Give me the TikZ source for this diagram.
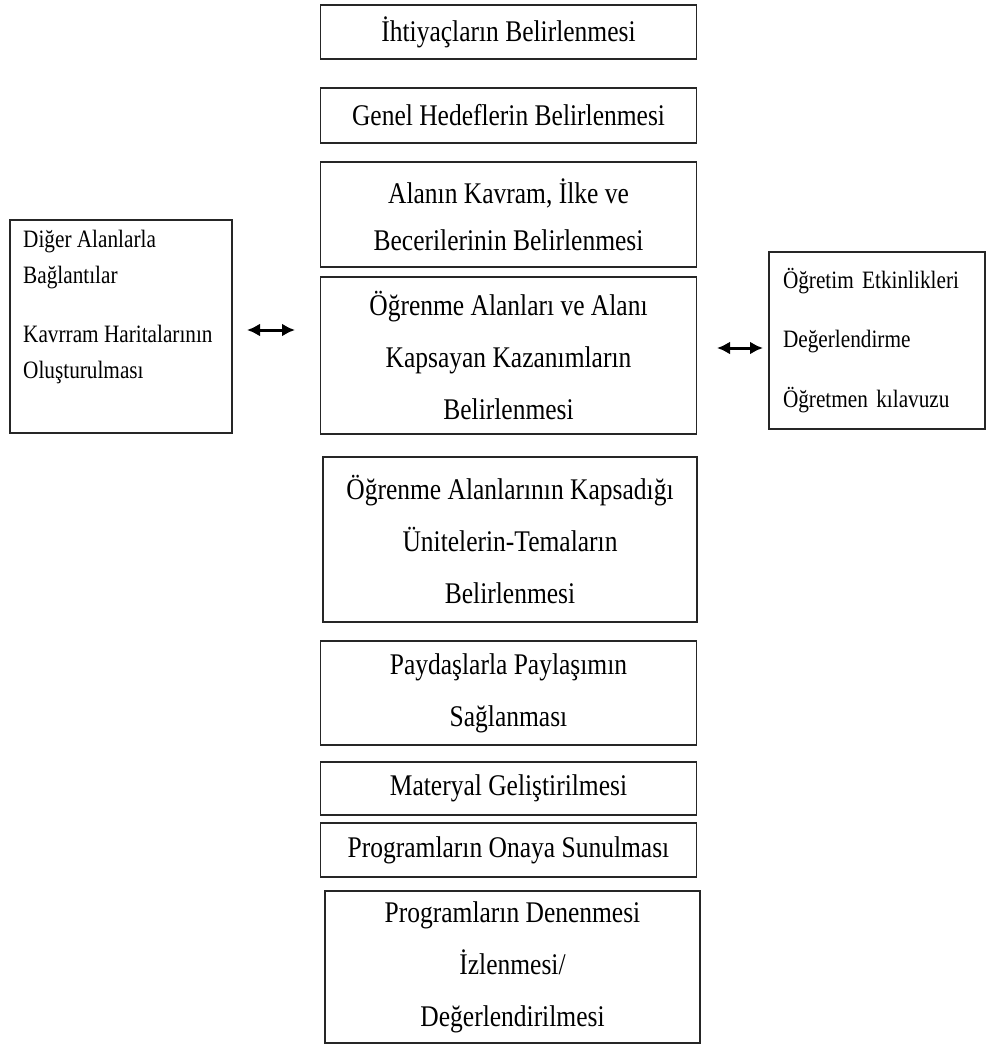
\documentclass[tikz,border=0pt]{standalone}
\usepackage{fontspec}
\setmainfont{Liberation Serif}[FakeStretch=0.85]
\usetikzlibrary{arrows.meta}

\begin{document}
\begin{tikzpicture}[
    x=1pt, y=-1pt,
    stage/.style={draw=black!85, line width=1.8pt, minimum width=376pt, inner sep=0pt,
      align=center, font=\fontsize{30}{52}\selectfont},
    side/.style={draw=black!85, line width=1.8pt, inner sep=0pt},
    sidetext/.style={inner sep=0pt, align=left, font=\fontsize{25}{36}\selectfont},
    lr/.style={{Latex[length=13pt,width=13pt]}-{Latex[length=13pt,width=13pt]}, line width=3pt}
  ]
    \useasboundingbox (0,0) rectangle (992,1048);

    % main column
    \node[stage, minimum height=54pt] (S1) at (508.5,32) {İhtiyaçların Belirlenmesi};
    \node[stage, minimum height=55pt] (S2) at (508.5,115.5) {Genel Hedeflerin Belirlenmesi};
    \node[stage, minimum height=105pt, font=\fontsize{30}{47}\selectfont] (S3) at (508.5,214.5)
      {Alanın Kavram, İlke ve\\Becerilerinin Belirlenmesi};
    \node[stage, minimum height=157pt] (S4) at (508.5,355.5)
      {Öğrenme Alanları ve Alanı\\Kapsayan Kazanımların\\Belirlenmesi};
    \node[stage, minimum height=165pt, minimum width=374pt] (S5) at (510,539.5)
      {Öğrenme Alanlarının Kapsadığı\\Ünitelerin-Temaların\\Belirlenmesi};
    \node[stage, minimum height=104pt] (S6) at (508.5,693) {Paydaşlarla Paylaşımın\\Sağlanması};
    \node[stage, minimum height=53pt] (S7) at (508.5,788.5) {Materyal Geliştirilmesi};
    \node[stage, minimum height=54pt] (S8) at (508.5,850) {Programların Onaya Sunulması};
    \node[stage, minimum height=152pt, minimum width=375pt] (S9) at (512.5,967)
      {Programların Denenmesi\\İzlenmesi/\\Değerlendirilmesi};

    % left box
    \node[side, minimum width=222pt, minimum height=213pt] (L) at (121,326.5) {};
    \node[sidetext, anchor=north west] (Ltext) at (23,230)
      {Diğer Alanlarla\\Bağlantılar\\[23pt]Kavrram Haritalarının\\Oluşturulması};

    % right box
    \node[side, minimum width=216pt, minimum height=177pt, text width=188pt, align=left,
      font=\fontsize{25}{59.5}\selectfont] (R) at (877,340.5)
      {Öğretim Etkinlikleri\\Değerlendirme\\Öğretmen kılavuzu};

    \coordinate (aL1) at (247,330);
    \coordinate (aL2) at (295,330);
    \coordinate (aR1) at (717,348);
    \coordinate (aR2) at (763,348);
    \draw[lr] (aL1) -- (aL2);
    \draw[lr] (aR1) -- (aR2);
  \end{tikzpicture}
\end{document}
